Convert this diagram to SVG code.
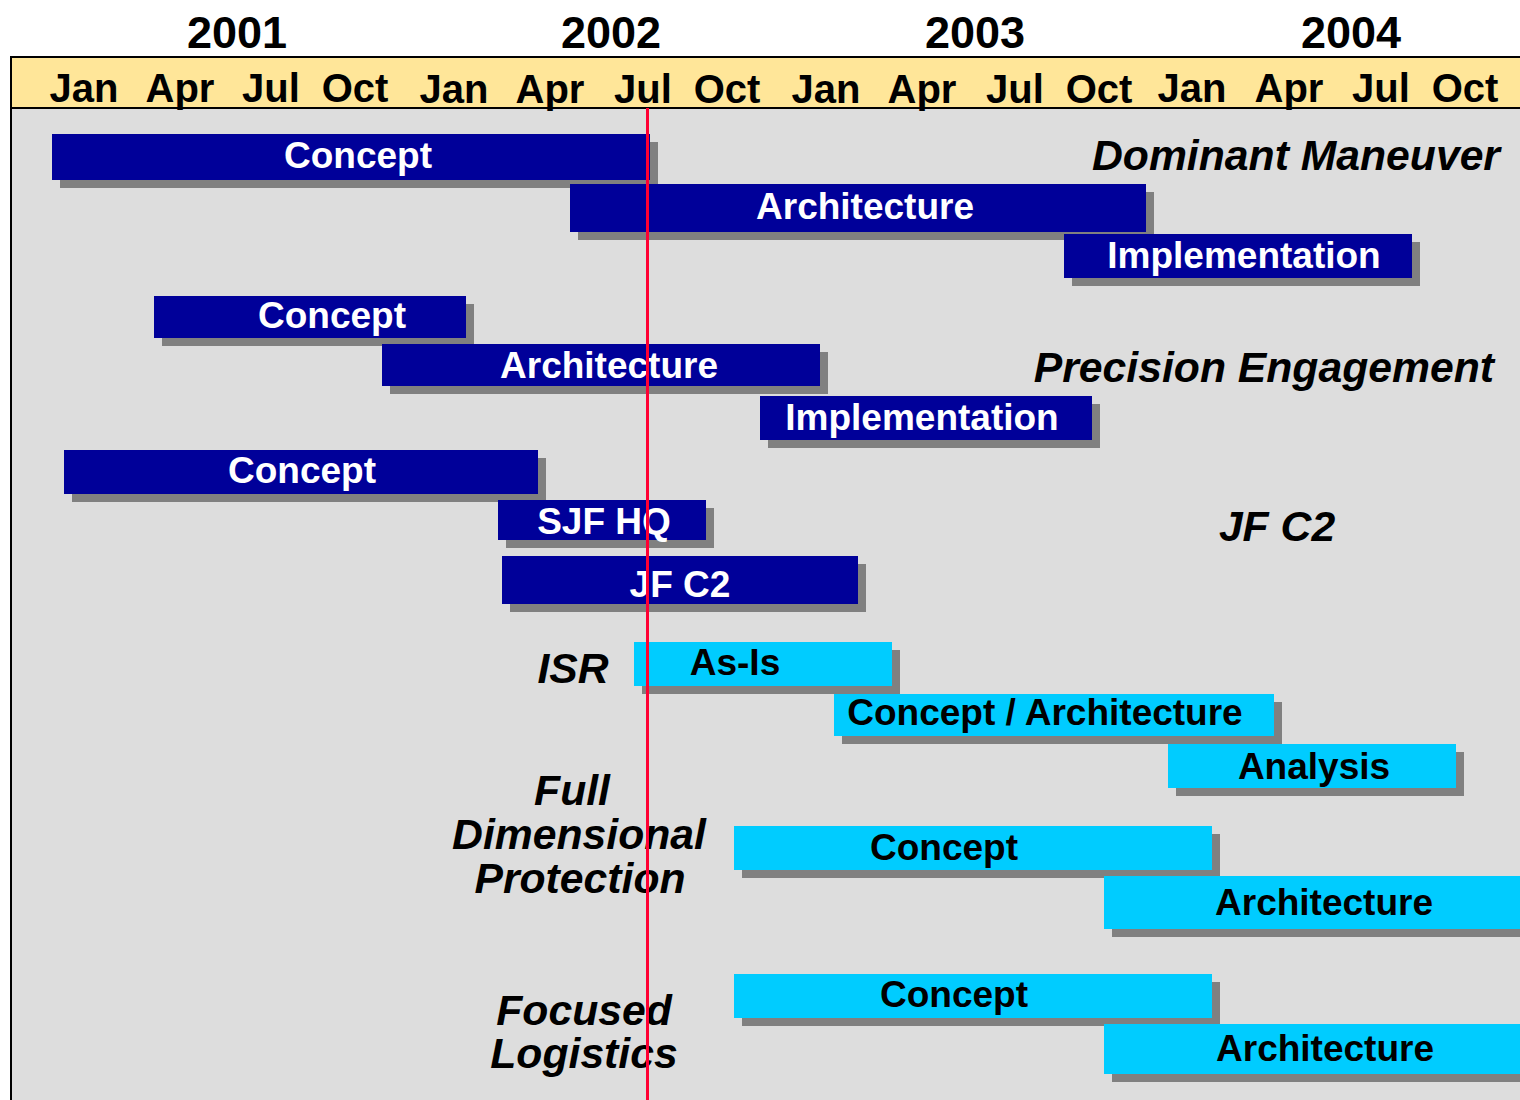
<svg xmlns="http://www.w3.org/2000/svg" width="1520" height="1100" viewBox="0 0 1520 1100">
  <style>
    text { font-family: "Liberation Sans", Arial, sans-serif; font-weight: bold; }
    .year { font-size: 45px; fill: #000; text-anchor: middle; }
    .month { font-size: 40px; fill: #000; text-anchor: middle; }
    .cat { font-size: 42.7px; font-style: italic; fill: #000; text-anchor: middle; }
    .cat-end { text-anchor: end; }
    .shadow { fill: #808080; }
    .dark { fill: #000099; }
    .light { fill: #00CCFF; }
    .dark-label { font-size: 37px; fill: #FFFFFF; text-anchor: middle; }
    .light-label { font-size: 37px; fill: #000000; text-anchor: middle; }
    .rule { stroke: #000; stroke-width: 2; }
  </style>

  <!-- canvas, plot body and timeline header -->
  <rect x="0" y="0" width="1520" height="1100" fill="#FFFFFF"/>
  <rect x="11" y="108" width="1509" height="992" fill="#DDDDDD"/>
  <rect x="11" y="57" width="1509" height="51" fill="#FFE699"/>
  <line class="rule" x1="10" y1="57" x2="1520" y2="57"/>
  <line class="rule" x1="10" y1="108" x2="1520" y2="108"/>
  <line class="rule" x1="11" y1="56" x2="11" y2="1100"/>

  <g id="years">
    <text class="year" x="237" y="48">2001</text>
    <text class="year" x="611" y="48">2002</text>
    <text class="year" x="975" y="48">2003</text>
    <text class="year" x="1351" y="48">2004</text>
  </g>

  <g id="months">
    <text class="month" x="84" y="102">Jan</text>
    <text class="month" x="180" y="102">Apr</text>
    <text class="month" x="271" y="102">Jul</text>
    <text class="month" x="355" y="102">Oct</text>
    <text class="month" x="454" y="103">Jan</text>
    <text class="month" x="550" y="103">Apr</text>
    <text class="month" x="643" y="103">Jul</text>
    <text class="month" x="727" y="103">Oct</text>
    <text class="month" x="826" y="103">Jan</text>
    <text class="month" x="922" y="103">Apr</text>
    <text class="month" x="1015" y="103">Jul</text>
    <text class="month" x="1099" y="103">Oct</text>
    <text class="month" x="1192" y="102">Jan</text>
    <text class="month" x="1289" y="102">Apr</text>
    <text class="month" x="1381" y="102">Jul</text>
    <text class="month" x="1465" y="102">Oct</text>
  </g>

  <!-- Dominant Maneuver -->
  <g id="dm-concept">
    <rect class="shadow" x="60" y="142" width="598" height="46"/>
    <rect class="dark" x="52" y="134" width="598" height="46"/>
    <text class="dark-label" x="358" y="168">Concept</text>
  </g>
  <g id="dm-architecture">
    <rect class="shadow" x="578" y="192" width="576" height="48"/>
    <rect class="dark" x="570" y="184" width="576" height="48"/>
    <text class="dark-label" x="865" y="219">Architecture</text>
  </g>
  <g id="dm-implementation">
    <rect class="shadow" x="1072" y="242" width="348" height="44"/>
    <rect class="dark" x="1064" y="234" width="348" height="44"/>
    <text class="dark-label" x="1244" y="268">Implementation</text>
  </g>
  <g id="label-dm">
    <text class="cat cat-end" x="1500" y="170">Dominant Maneuver</text>
  </g>

  <!-- Precision Engagement -->
  <g id="pe-concept">
    <rect class="shadow" x="162" y="304" width="312" height="42"/>
    <rect class="dark" x="154" y="296" width="312" height="42"/>
    <text class="dark-label" x="332" y="328">Concept</text>
  </g>
  <g id="pe-architecture">
    <rect class="shadow" x="390" y="352" width="438" height="42"/>
    <rect class="dark" x="382" y="344" width="438" height="42"/>
    <text class="dark-label" x="609" y="378">Architecture</text>
  </g>
  <g id="pe-implementation">
    <rect class="shadow" x="768" y="404" width="332" height="44"/>
    <rect class="dark" x="760" y="396" width="332" height="44"/>
    <text class="dark-label" x="922" y="430">Implementation</text>
  </g>
  <g id="label-pe">
    <text class="cat cat-end" x="1494" y="382">Precision Engagement</text>
  </g>

  <!-- JF C2 -->
  <g id="jfc2-concept">
    <rect class="shadow" x="72" y="458" width="474" height="44"/>
    <rect class="dark" x="64" y="450" width="474" height="44"/>
    <text class="dark-label" x="302" y="483">Concept</text>
  </g>
  <g id="jfc2-sjfhq">
    <rect class="shadow" x="506" y="508" width="208" height="40"/>
    <rect class="dark" x="498" y="500" width="208" height="40"/>
    <text class="dark-label" x="604" y="534">SJF HQ</text>
  </g>
  <g id="jfc2-jfc2">
    <rect class="shadow" x="510" y="564" width="356" height="48"/>
    <rect class="dark" x="502" y="556" width="356" height="48"/>
    <text class="dark-label" x="680" y="597">JF C2</text>
  </g>
  <g id="label-jfc2">
    <text class="cat" x="1277" y="541">JF C2</text>
  </g>

  <!-- ISR -->
  <g id="isr-asis">
    <rect class="shadow" x="642" y="650" width="258" height="44"/>
    <rect class="light" x="634" y="642" width="258" height="44"/>
    <text class="light-label" x="735" y="675">As-Is</text>
  </g>
  <g id="isr-concept-architecture">
    <rect class="shadow" x="842" y="702" width="440" height="42"/>
    <rect class="light" x="834" y="694" width="440" height="42"/>
    <text class="light-label" x="1045" y="725">Concept / Architecture</text>
  </g>
  <g id="isr-analysis">
    <rect class="shadow" x="1176" y="752" width="288" height="44"/>
    <rect class="light" x="1168" y="744" width="288" height="44"/>
    <text class="light-label" x="1314" y="779">Analysis</text>
  </g>
  <g id="label-isr">
    <text class="cat" x="573" y="683">ISR</text>
  </g>

  <!-- Full Dimensional Protection -->
  <g id="fdp-concept">
    <rect class="shadow" x="742" y="834" width="478" height="44"/>
    <rect class="light" x="734" y="826" width="478" height="44"/>
    <text class="light-label" x="944" y="860">Concept</text>
  </g>
  <g id="fdp-architecture">
    <rect class="shadow" x="1112" y="884" width="420" height="53"/>
    <rect class="light" x="1104" y="876" width="420" height="53"/>
    <text class="light-label" x="1324" y="915">Architecture</text>
  </g>
  <g id="label-fdp">
    <text class="cat" x="572" y="805">Full</text>
    <text class="cat" x="579" y="849">Dimensional</text>
    <text class="cat" x="580" y="893">Protection</text>
  </g>

  <!-- Focused Logistics -->
  <g id="fl-concept">
    <rect class="shadow" x="742" y="982" width="478" height="44"/>
    <rect class="light" x="734" y="974" width="478" height="44"/>
    <text class="light-label" x="954" y="1007">Concept</text>
  </g>
  <g id="fl-architecture">
    <rect class="shadow" x="1112" y="1032" width="420" height="50"/>
    <rect class="light" x="1104" y="1024" width="420" height="50"/>
    <text class="light-label" x="1325" y="1061">Architecture</text>
  </g>
  <g id="label-fl">
    <text class="cat" x="584" y="1025">Focused</text>
    <text class="cat" x="584" y="1068">Logistics</text>
  </g>

  <!-- current-date marker -->
  <g id="connectors">
    <rect x="646" y="108" width="3" height="992" fill="#FF0033"/>
  </g>
</svg>
